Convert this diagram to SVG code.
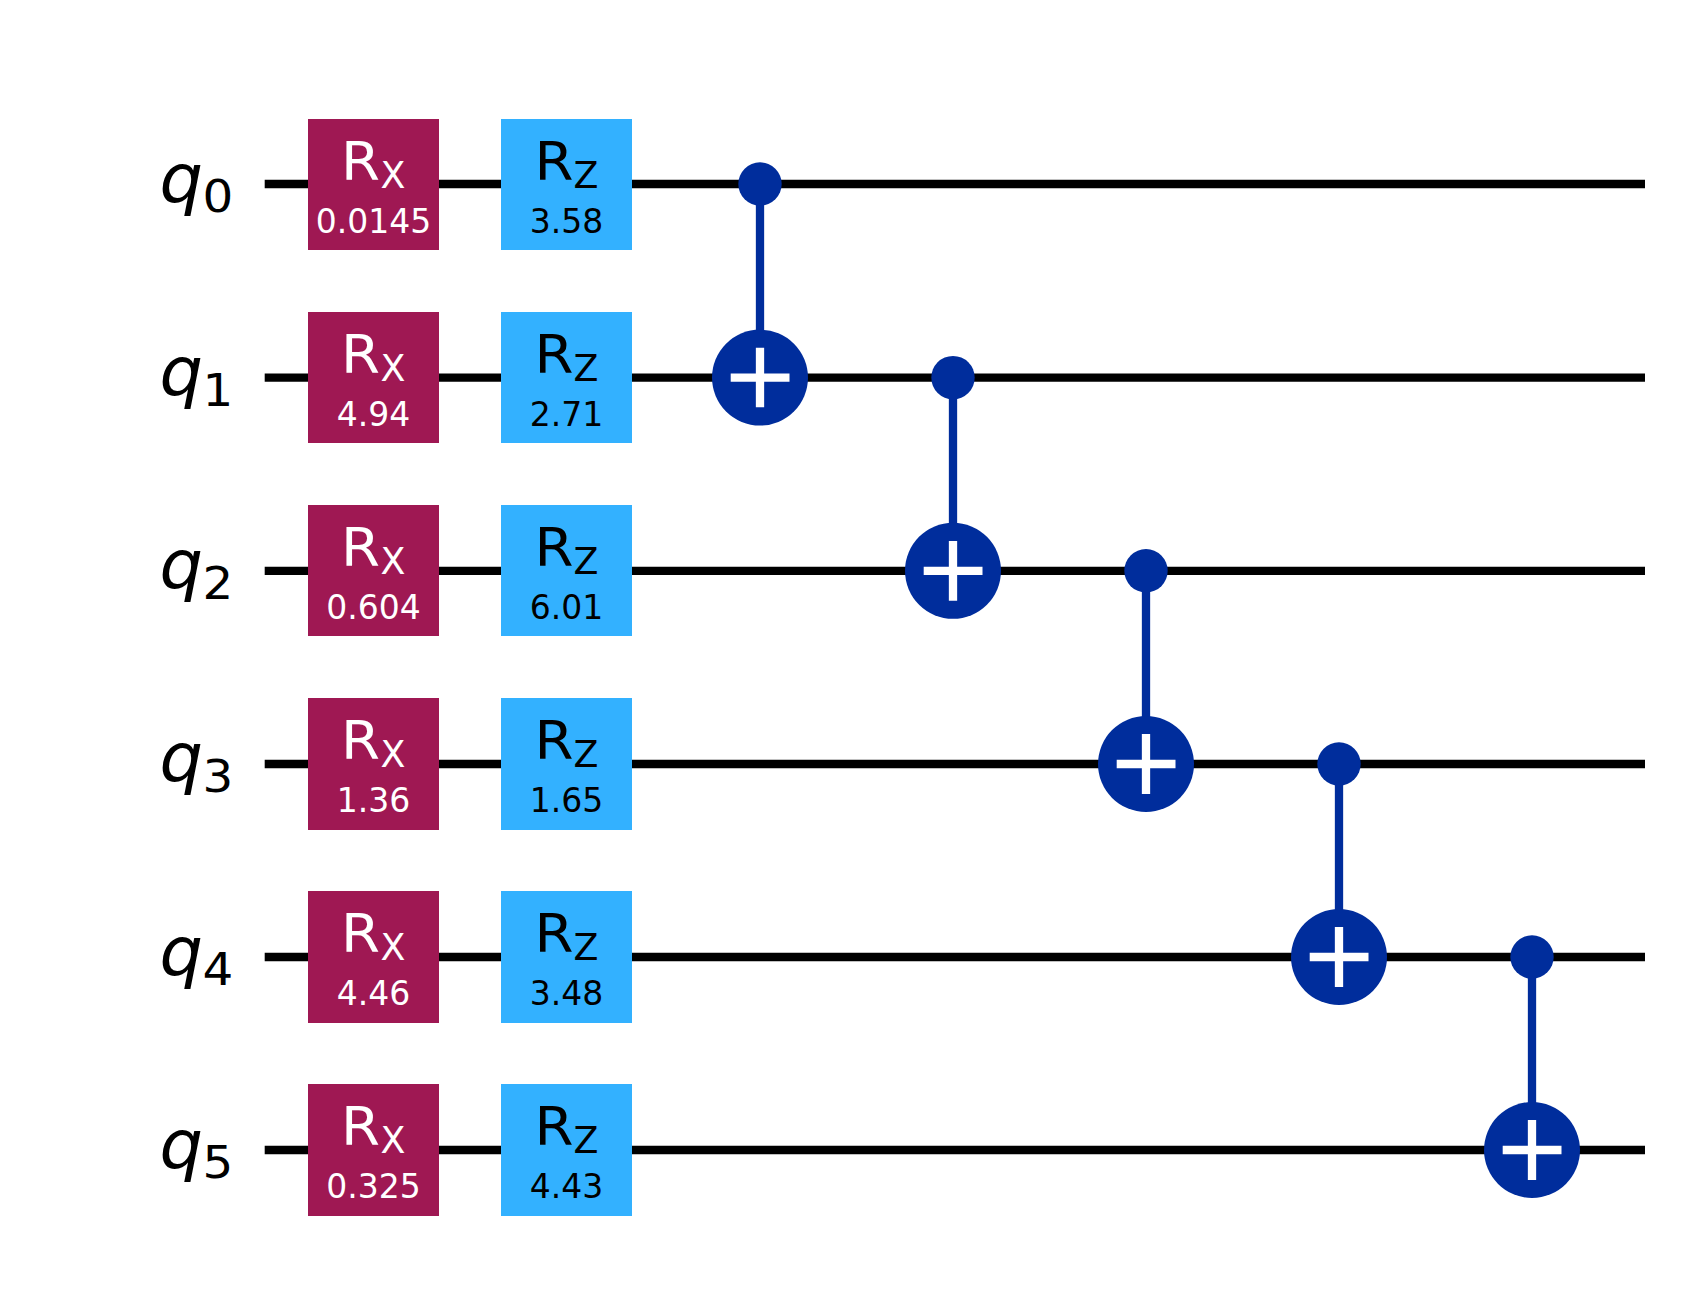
<svg xmlns="http://www.w3.org/2000/svg" width="1689" height="1296" viewBox="0 0 1689 1296">
<style>
text{font-family:"DejaVu Sans",sans-serif}
.wire{stroke:#000;stroke-width:8.3;fill:none}
.ctrl{stroke:#002d9c;stroke-width:8.3;fill:none}
.rx{fill:#9f1853}
.rz{fill:#33b1ff}
.w{fill:#fff}
.k{fill:#000}
.big{font-size:52.5px}
.sub{font-size:36.4px}
.par{font-size:33px;text-anchor:middle}
.q{font-size:68.5px;font-style:italic}
.qs{font-size:44.8px}
.dot{fill:#002d9c}
.plus{stroke:#fff;stroke-width:8.3;fill:none}
</style>
<rect width="1689" height="1296" fill="#fff"/>
<g id="connectors">
<path class="wire" d="M264.7 184H1645"/>
<path class="wire" d="M264.7 377.6H1645"/>
<path class="wire" d="M264.7 570.8H1645"/>
<path class="wire" d="M264.7 764H1645"/>
<path class="wire" d="M264.7 957H1645"/>
<path class="wire" d="M264.7 1150H1645"/>
<path class="ctrl" d="M760 184V377.6"/>
<path class="ctrl" d="M953 377.6V570.8"/>
<path class="ctrl" d="M1146 570.8V764"/>
<path class="ctrl" d="M1339 764V957"/>
<path class="ctrl" d="M1532 957V1150"/>
</g>
<g id="q0"><text class="q" x="159.4" y="201.8">q</text><text class="qs" x="202.5" y="212.4" textLength="30.8" lengthAdjust="spacingAndGlyphs">0</text></g>
<g id="q1" transform="translate(0,193.2)"><text class="q" x="159.4" y="201.8">q</text><text class="qs" x="202.5" y="212.4" textLength="30.8" lengthAdjust="spacingAndGlyphs">1</text></g>
<g id="q2" transform="translate(0,386.4)"><text class="q" x="159.4" y="201.8">q</text><text class="qs" x="202.5" y="212.4" textLength="30.8" lengthAdjust="spacingAndGlyphs">2</text></g>
<g id="q3" transform="translate(0,579.6)"><text class="q" x="159.4" y="201.8">q</text><text class="qs" x="202.5" y="212.4" textLength="30.8" lengthAdjust="spacingAndGlyphs">3</text></g>
<g id="q4" transform="translate(0,772.8)"><text class="q" x="159.4" y="201.8">q</text><text class="qs" x="202.5" y="212.4" textLength="30.8" lengthAdjust="spacingAndGlyphs">4</text></g>
<g id="q5" transform="translate(0,966)"><text class="q" x="159.4" y="201.8">q</text><text class="qs" x="202.5" y="212.4" textLength="30.8" lengthAdjust="spacingAndGlyphs">5</text></g>

<g id="rx0"><rect class="rx" x="308" y="119" width="131" height="131"/><text class="big w" x="341" y="180" textLength="39" lengthAdjust="spacingAndGlyphs">R</text><text class="sub w" x="380.5" y="188">X</text><text class="par w" x="373.5" y="232.8">0.0145</text></g>
<g id="rx1" transform="translate(0,193)"><rect class="rx" x="308" y="119" width="131" height="131"/><text class="big w" x="341" y="180" textLength="39" lengthAdjust="spacingAndGlyphs">R</text><text class="sub w" x="380.5" y="188">X</text><text class="par w" x="373.5" y="232.8">4.94</text></g>
<g id="rx2" transform="translate(0,386)"><rect class="rx" x="308" y="119" width="131" height="131"/><text class="big w" x="341" y="180" textLength="39" lengthAdjust="spacingAndGlyphs">R</text><text class="sub w" x="380.5" y="188">X</text><text class="par w" x="373.5" y="232.8">0.604</text></g>
<g id="rx3" transform="translate(0,579)"><rect class="rx" x="308" y="119" width="131" height="132"/><text class="big w" x="341" y="180" textLength="39" lengthAdjust="spacingAndGlyphs">R</text><text class="sub w" x="380.5" y="188">X</text><text class="par w" x="373.5" y="232.8">1.36</text></g>
<g id="rx4" transform="translate(0,772)"><rect class="rx" x="308" y="119" width="131" height="132"/><text class="big w" x="341" y="180" textLength="39" lengthAdjust="spacingAndGlyphs">R</text><text class="sub w" x="380.5" y="188">X</text><text class="par w" x="373.5" y="232.8">4.46</text></g>
<g id="rx5" transform="translate(0,965)"><rect class="rx" x="308" y="119" width="131" height="132"/><text class="big w" x="341" y="180" textLength="39" lengthAdjust="spacingAndGlyphs">R</text><text class="sub w" x="380.5" y="188">X</text><text class="par w" x="373.5" y="232.8">0.325</text></g>

<g id="rz0"><rect class="rz" x="501" y="119" width="131" height="131"/><text class="big k" x="534.5" y="180" textLength="39" lengthAdjust="spacingAndGlyphs">R</text><text class="sub k" x="573.5" y="188">Z</text><text class="par k" x="566.5" y="232.8">3.58</text></g>
<g id="rz1" transform="translate(0,193)"><rect class="rz" x="501" y="119" width="131" height="131"/><text class="big k" x="534.5" y="180" textLength="39" lengthAdjust="spacingAndGlyphs">R</text><text class="sub k" x="573.5" y="188">Z</text><text class="par k" x="566.5" y="232.8">2.71</text></g>
<g id="rz2" transform="translate(0,386)"><rect class="rz" x="501" y="119" width="131" height="131"/><text class="big k" x="534.5" y="180" textLength="39" lengthAdjust="spacingAndGlyphs">R</text><text class="sub k" x="573.5" y="188">Z</text><text class="par k" x="566.5" y="232.8">6.01</text></g>
<g id="rz3" transform="translate(0,579)"><rect class="rz" x="501" y="119" width="131" height="132"/><text class="big k" x="534.5" y="180" textLength="39" lengthAdjust="spacingAndGlyphs">R</text><text class="sub k" x="573.5" y="188">Z</text><text class="par k" x="566.5" y="232.8">1.65</text></g>
<g id="rz4" transform="translate(0,772)"><rect class="rz" x="501" y="119" width="131" height="132"/><text class="big k" x="534.5" y="180" textLength="39" lengthAdjust="spacingAndGlyphs">R</text><text class="sub k" x="573.5" y="188">Z</text><text class="par k" x="566.5" y="232.8">3.48</text></g>
<g id="rz5" transform="translate(0,965)"><rect class="rz" x="501" y="119" width="131" height="132"/><text class="big k" x="534.5" y="180" textLength="39" lengthAdjust="spacingAndGlyphs">R</text><text class="sub k" x="573.5" y="188">Z</text><text class="par k" x="566.5" y="232.8">4.43</text></g>

<g id="cx0-control"><circle class="dot" cx="760" cy="184" r="21.7"/></g>
<g id="cx0-target"><circle class="dot" cx="760" cy="377.6" r="48"/><path class="plus" d="M730.7 377.6H789.5M760 347.7V407.3"/></g>
<g id="cx1-control"><circle class="dot" cx="953" cy="377.6" r="21.7"/></g>
<g id="cx1-target"><circle class="dot" cx="953" cy="570.8" r="48"/><path class="plus" d="M923.7 570.8H982.5M953 540.9V600.7"/></g>
<g id="cx2-control"><circle class="dot" cx="1146" cy="570.8" r="21.7"/></g>
<g id="cx2-target"><circle class="dot" cx="1146" cy="764" r="48"/><path class="plus" d="M1116.7 764H1175.5M1146 734.1V793.9"/></g>
<g id="cx3-control"><circle class="dot" cx="1339" cy="764" r="21.7"/></g>
<g id="cx3-target"><circle class="dot" cx="1339" cy="957" r="48"/><path class="plus" d="M1309.7 957H1368.5M1339 927.1V986.9"/></g>
<g id="cx4-control"><circle class="dot" cx="1532" cy="957" r="21.7"/></g>
<g id="cx4-target"><circle class="dot" cx="1532" cy="1150" r="48"/><path class="plus" d="M1502.7 1150H1561.5M1532 1120.1V1179.9"/></g>
</svg>
